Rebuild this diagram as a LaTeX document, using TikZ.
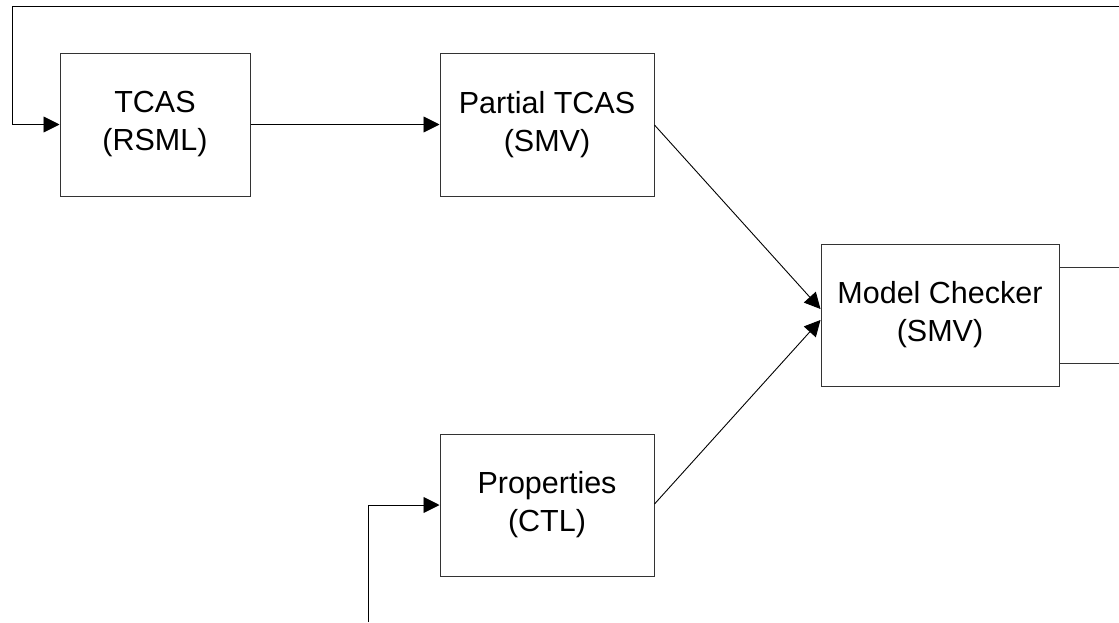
\documentclass[tikz,border=0pt]{standalone}
\usepackage{fontspec}
\setmainfont{Liberation Sans}
\usetikzlibrary{arrows.meta}
\begin{document}
\begin{tikzpicture}[x=1pt,y=-1pt,
  blockbox/.style={draw=black!80,line width=1pt,align=center,inner sep=0pt,
    font=\fontsize{30.5}{38}\selectfont},
  flow/.style={draw=black,line width=0.9pt,-{Triangle[length=16pt,width=16pt]}},
  plainline/.style={draw=black!80,line width=1pt}]
\useasboundingbox (0,0) rectangle (1119,622);

% processing blocks
\node[blockbox,minimum width=190pt,minimum height=143pt] (tcas) at (155,124.5) {TCAS\\(RSML)};
\node[blockbox,minimum width=214pt,minimum height=143pt] (partial) at (547,124.5) {Partial TCAS\\(SMV)};
\node[blockbox,minimum width=238pt,minimum height=142pt] (mc) at (940,315) {Model Checker\\(SMV)};
\node[blockbox,minimum width=214pt,minimum height=142pt] (props) at (547,505) {Properties\\(CTL)};

% free ends at the picture border
\coordinate (topin) at (1119,6);
\coordinate (topcorner) at (12,6);
\coordinate (botin) at (368,622);
\coordinate (mcout1) at (1119,267);
\coordinate (mcout2) at (1119,363);

% feedback path into TCAS
\draw[flow] (topin) -- (topcorner) |- (tcas.west);
% translation chain
\draw[flow] (tcas.east) -- (partial.west);
\draw[flow] ([yshift=-0.5pt]partial.east) -- ([yshift=6pt]mc.west);
% property input
\draw[flow] (botin) |- (props.west);
\draw[flow] ([yshift=1pt]props.east) -- ([yshift=-5pt]mc.west);
% checker outputs
\draw[plainline] (mc.east |- mcout1) -- (mcout1);
\draw[plainline] (mc.east |- mcout2) -- (mcout2);
\end{tikzpicture}
\end{document}
